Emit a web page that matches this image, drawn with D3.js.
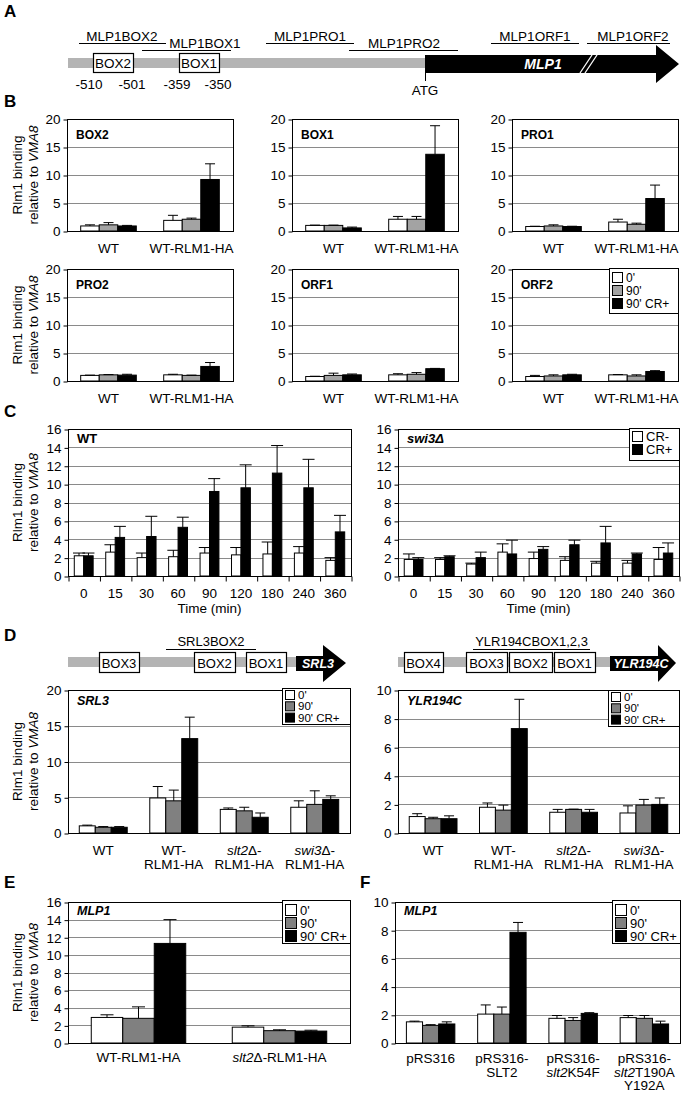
<!DOCTYPE html>
<html>
<head>
<meta charset="utf-8">
<script src="https://cdn.jsdelivr.net/npm/d3@7"></script>
<style>
  body { margin: 0; background: #fff; }
</style>
</head>
<body>
<svg id="fig" width="682" height="1093"></svg>
<script>
const FONT = "'Liberation Sans', Arial, Helvetica, sans-serif";
const FS = 13.5;

// ---------- data ----------
const timeSeries = ["0'", "90'", "90' CR+"];
const crSeries = ["CR-", "CR+"];

// panel B (MLP1 ChIP, two strains x three conditions)
const bStrains = ["WT", "WT-RLM1-HA"];
const box2Mean = [[0.9, 1.1, 0.9], [1.9, 2.1, 9.2]];
const box2Err = [[0.2, 0.4, 0.1], [0.9, 0.2, 2.8]];
const box1Mean = [[1.0, 1.0, 0.55], [2.1, 2.1, 13.7]];
const box1Err = [[0.05, 0.05, 0.15], [0.5, 0.5, 5.1]];
const pro1Mean = [[0.8, 0.9, 0.8], [1.6, 1.2, 5.8]];
const pro1Err = [[0.05, 0.2, 0.05], [0.5, 0.2, 2.4]];
const pro2Mean = [[1.0, 1.1, 1.05], [1.1, 1.0, 2.6]];
const pro2Err = [[0.05, 0.05, 0.15], [0.1, 0.05, 0.7]];
const orf1Mean = [[0.8, 1.0, 1.1], [1.1, 1.2, 2.2]];
const orf1Err = [[0.05, 0.4, 0.15], [0.2, 0.3, 0.05]];
const orf2Mean = [[0.8, 0.9, 1.1], [1.1, 0.9, 1.7]];
const orf2Err = [[0.2, 0.2, 0.1], [0.05, 0.2, 0.15]];

// panel C (time course)
const timePoints = ["0", "15", "30", "60", "90", "120", "180", "240", "360"];
const wtCrMinus = [2.2, 2.6, 2.0, 2.1, 2.5, 2.3, 2.4, 2.5, 1.7];
const wtCrMinusErr = [0.3, 0.8, 0.5, 0.7, 0.6, 0.8, 1.3, 0.7, 0.3];
const wtCrPlus = [2.2, 4.2, 4.3, 5.3, 9.2, 9.6, 11.2, 9.6, 4.8];
const wtCrPlusErr = [0.3, 1.2, 2.2, 1.1, 1.4, 2.5, 3.0, 3.1, 1.8];
const swi3CrMinus = [1.8, 1.8, 1.3, 2.6, 1.9, 1.7, 1.4, 1.4, 1.8];
const swi3CrMinusErr = [0.6, 0.2, 0.1, 0.9, 0.7, 0.4, 0.2, 0.3, 1.3];
const swi3CrPlus = [1.8, 2.1, 2.0, 2.4, 2.9, 3.4, 3.6, 2.4, 2.5];
const swi3CrPlusErr = [0.2, 0.1, 0.6, 1.5, 0.3, 0.5, 1.8, 0.1, 1.1];

// panel D
const dStrains = ["WT", "WT-\nRLM1-HA", "*slt2*Δ-\nRLM1-HA", "*swi3*Δ-\nRLM1-HA"];
const srl3Mean = [[1.0, 0.8, 0.8], [4.9, 4.5, 13.2], [3.3, 3.1, 2.2], [3.6, 4.0, 4.7]];
const srl3Err = [[0.1, 0.1, 0.1], [1.6, 1.5, 3.0], [0.2, 0.5, 0.6], [0.9, 1.9, 0.5]];
const ylrMean = [[1.15, 1.0, 1.0], [1.8, 1.6, 7.3], [1.45, 1.65, 1.45], [1.4, 1.95, 2.0]];
const ylrErr = [[0.2, 0.1, 0.2], [0.3, 0.35, 2.05], [0.2, 0.02, 0.2], [0.5, 0.4, 0.45]];

// panel E
const eStrains = ["WT-RLM1-HA", "*slt2*Δ-RLM1-HA"];
const eMean = [[2.9, 2.8, 11.3], [1.8, 1.4, 1.35]];
const eErr = [[0.3, 1.3, 2.7], [0.15, 0.1, 0.1]];

// panel F
const fPlasmids = ["pRS316", "pRS316-\nSLT2", "pRS316-\n*slt2*K54F", "pRS316-\n*slt2*T190A\nY192A"];
const fMean = [[1.5, 1.25, 1.35], [2.05, 2.05, 7.85], [1.75, 1.6, 2.1], [1.8, 1.75, 1.35]];
const fErr = [[0.05, 0.05, 0.15], [0.65, 0.5, 0.7], [0.2, 0.2, 0.05], [0.15, 0.2, 0.2]];

// schematics
const mlp1Probes = ["MLP1BOX2", "MLP1BOX1", "MLP1PRO1", "MLP1PRO2", "MLP1ORF1", "MLP1ORF2"];
const mlp1Boxes = ["BOX2", "BOX1"];
const mlp1Coords = ["-510", "-501", "-359", "-350"];
const srl3Boxes = ["BOX3", "BOX2", "BOX1"];
const ylrBoxes = ["BOX4", "BOX3", "BOX2", "BOX1"];

// ---------- drawing ----------
const fig = d3.select("#fig").attr("font-family", FONT);

function richText(sel, x, y, label, lineH, size, anchor) {
  label.split("\n").forEach((line, k) => {
    const t = sel.append("text")
      .attr("x", x).attr("y", y + k * lineH)
      .attr("text-anchor", anchor || "middle")
      .attr("font-size", size);
    line.split("*").forEach((seg, m) => {
      if (seg) t.append("tspan").text(seg).attr("font-style", m % 2 ? "italic" : "normal");
    });
  });
}

function legend(o) {
  const g = fig.append("g");
  g.append("rect").attr("x", o.x + 0.5).attr("y", o.y + 0.5).attr("width", o.w).attr("height", o.h)
    .attr("fill", "#fff").attr("stroke", "#000");
  o.items.forEach((name, k) => {
    const yy = o.y + o.pad + k * o.row;
    g.append("rect").attr("x", o.x + 3.5).attr("y", yy + 0.5).attr("width", o.sq).attr("height", o.sq)
      .attr("fill", o.colors[k]).attr("stroke", "#000");
    g.append("text").attr("x", o.x + o.sq + 7).attr("y", yy + o.sq).attr("font-size", o.fs).text(name);
  });
}

function barChart(o) {
  const g = fig.append("g");
  const n = o.labels.length, m = o.means[0].length;
  const x = d3.scaleBand().domain(d3.range(n)).range([o.left, o.right])
    .paddingInner(o.pad).paddingOuter(o.pad / 2);
  const xs = d3.scaleBand().domain(d3.range(m)).range([0, x.bandwidth()]);
  const y = d3.scaleLinear().domain([0, o.ymax]).range([o.bottom, o.top]);
  const tv = d3.range(0, o.ymax + o.step / 2, o.step);

  g.append("g").selectAll("line").data(tv.slice(1, -1)).join("line")
    .attr("x1", o.left).attr("x2", o.right)
    .attr("y1", d => Math.round(y(d)) + 0.5).attr("y2", d => Math.round(y(d)) + 0.5)
    .attr("stroke", "#8a8a8a");

  const ax = g.append("g").attr("transform", `translate(${o.left + 0.5},0.5)`)
    .call(d3.axisLeft(y).tickValues(tv).tickSize(4).tickPadding(3));
  ax.attr("font-family", FONT).attr("font-size", FS);
  ax.select(".domain").remove();

  if (o.xTicks) {
    const xb = d3.scaleLinear().domain([0, n]).range([o.left, o.right]);
    const bx = g.append("g").attr("transform", `translate(0.5,${o.bottom + 0.5})`)
      .call(d3.axisBottom(xb).ticks(n).tickSize(5).tickFormat(""));
    bx.select(".domain").remove();
  }

  const cells = o.means.flatMap((row, i) => row.map((v, j) => ({ i, j, v, e: o.errs[i][j] })));
  const cx = d => x(d.i) + xs(d.j) + xs.bandwidth() / 2;

  g.append("g").selectAll("rect").data(cells).join("rect")
    .attr("x", d => x(d.i) + xs(d.j)).attr("y", d => y(d.v))
    .attr("width", xs.bandwidth()).attr("height", d => y(0) - y(d.v))
    .attr("fill", d => o.colors[d.j]).attr("stroke", "#000").attr("stroke-width", 1);

  const eb = g.append("g").attr("stroke", "#000").attr("stroke-width", 1);
  eb.selectAll("line.v").data(cells).join("line").attr("class", "v")
    .attr("x1", cx).attr("x2", cx).attr("y1", d => y(d.v)).attr("y2", d => y(d.v + d.e));
  eb.selectAll("line.c").data(cells).join("line").attr("class", "c")
    .attr("x1", d => cx(d) - o.cap / 2).attr("x2", d => cx(d) + o.cap / 2)
    .attr("y1", d => y(d.v + d.e)).attr("y2", d => y(d.v + d.e));

  g.append("rect").attr("x", o.left + 0.5).attr("y", o.top + 0.5)
    .attr("width", o.right - o.left).attr("height", o.bottom - o.top)
    .attr("fill", "none").attr("stroke", "#000");

  o.labels.forEach((lab, i) => richText(g, x(i) + x.bandwidth() / 2, o.bottom + o.labelDy, lab, o.lineH || 13.5, FS));

  if (o.title) {
    g.append("text").attr("x", o.left + 9).attr("y", o.top + o.titleDy)
      .attr("font-size", o.titleSize).attr("font-weight", "bold")
      .attr("font-style", o.titleItalic ? "italic" : "normal").text(o.title);
  }
  if (o.ytitle) {
    const yc = (o.top + o.bottom) / 2;
    const t = g.append("g").attr("transform", `translate(0,${yc})`);
    richText(t.append("g").attr("transform", "translate(22,0) rotate(-90)"), 0, 0, "Rlm1 binding", 0, FS);
    richText(t.append("g").attr("transform", "translate(38,0) rotate(-90)"), 0, 0, "relative to *VMA8*", 0, FS);
  }
  if (o.xtitle) {
    g.append("text").attr("x", (o.left + o.right) / 2).attr("y", o.bottom + 37)
      .attr("text-anchor", "middle").attr("font-size", FS).text(o.xtitle);
  }
}

const colB = ["#fff", "#a3a3a3", "#000"];
const colD = ["#fff", "#808080", "#000"];
const colC = ["#fff", "#000"];

// panel letters
[["A", 4, 17], ["B", 4, 107], ["C", 4, 417], ["D", 4, 641], ["E", 4, 888], ["F", 360, 888]]
  .forEach(([t, x, y]) => fig.append("text").attr("x", x).attr("y", y)
    .attr("font-size", 17).attr("font-weight", "bold").text(t));

// ---- panel A schematic ----
(function () {
  const g = fig.append("g");
  g.append("rect").attr("x", 68).attr("y", 58).attr("width", 357).attr("height", 10).attr("fill", "#b4b4b4");
  g.append("path").attr("d", "M425,55 H656 V45 L679,64 L656,83 V73 H425 Z").attr("fill", "#000");
  g.append("line").attr("x1", 580).attr("y1", 73).attr("x2", 592).attr("y2", 55).attr("stroke", "#fff").attr("stroke-width", 1.3);
  g.append("line").attr("x1", 585).attr("y1", 73).attr("x2", 597).attr("y2", 55).attr("stroke", "#fff").attr("stroke-width", 1.3);
  g.append("text").attr("x", 543).attr("y", 69).attr("text-anchor", "middle").attr("fill", "#fff")
    .attr("font-size", 14).attr("font-weight", "bold").attr("font-style", "italic").text("MLP1");
  g.append("line").attr("x1", 425.5).attr("x2", 425.5).attr("y1", 73).attr("y2", 81).attr("stroke", "#000");
  g.append("text").attr("x", 425).attr("y", 95).attr("text-anchor", "middle").attr("font-size", FS).text("ATG");

  const boxX = [93, 179];
  mlp1Boxes.forEach((b, k) => {
    g.append("rect").attr("x", boxX[k] + 0.5).attr("y", 53.5).attr("width", 40).attr("height", 19)
      .attr("fill", "#fff").attr("stroke", "#000").attr("stroke-width", 1.2);
    g.append("text").attr("x", boxX[k] + 20).attr("y", 68).attr("text-anchor", "middle").attr("font-size", FS).text(b);
  });
  const coordX = [89, 132, 177, 218];
  mlp1Coords.forEach((c, k) => g.append("text").attr("x", coordX[k]).attr("y", 89)
    .attr("text-anchor", "middle").attr("font-size", FS).text(c));

  // [line start, line end, row, text centre]
  const spans = [[79, 166, 0, 122], [142, 231, 1, 205], [266, 354, 0, 310], [349, 458, 1, 404],
                 [491, 579, 0, 535], [587, 670, 0, 633]];
  mlp1Probes.forEach((p, k) => {
    const [x1, x2, r, tx] = spans[k];
    const ly = r ? 50.5 : 43.5;
    g.append("line").attr("x1", x1).attr("x2", x2).attr("y1", ly).attr("y2", ly).attr("stroke", "#000");
    g.append("text").attr("x", tx).attr("y", ly - 3).attr("text-anchor", "middle")
      .attr("font-size", FS).text(p);
  });
})();

// ---- panel B ----
const bPanels = [
  ["BOX2", box2Mean, box2Err], ["BOX1", box1Mean, box1Err], ["PRO1", pro1Mean, pro1Err],
  ["PRO2", pro2Mean, pro2Err], ["ORF1", orf1Mean, orf1Err], ["ORF2", orf2Mean, orf2Err]
];
const bLeft = [67, 292, 512];
bPanels.forEach(([name, mean, err], k) => {
  const col = k % 3, row = Math.floor(k / 3);
  const bottom = row ? 381 : 231;
  barChart({
    left: bLeft[col], right: bLeft[col] + 166, top: bottom - 112, bottom,
    ymax: 20, step: 5, means: mean, errs: err, labels: bStrains, colors: colB,
    pad: 0.33, cap: 10, labelDy: 22, title: name, titleSize: 12, titleDy: 20, ytitle: col === 0
  });
});
legend({ x: 609, y: 268, w: 69, h: 45, pad: 4, row: 13, sq: 10, fs: 12, items: timeSeries, colors: colB });

// ---- panel C ----
barChart({
  left: 68, right: 351, top: 429, bottom: 576, ymax: 16, step: 2,
  means: d3.zip(wtCrMinus, wtCrPlus), errs: d3.zip(wtCrMinusErr, wtCrPlusErr),
  labels: timePoints, colors: colC, pad: 0.4, cap: 12, labelDy: 22, xTicks: true,
  title: "WT", titleSize: 13, titleDy: 14, ytitle: true, xtitle: "Time (min)"
});
barChart({
  left: 398, right: 679, top: 429, bottom: 576, ymax: 16, step: 2,
  means: d3.zip(swi3CrMinus, swi3CrPlus), errs: d3.zip(swi3CrMinusErr, swi3CrPlusErr),
  labels: timePoints, colors: colC, pad: 0.4, cap: 12, labelDy: 22, xTicks: true,
  title: "swi3Δ", titleItalic: true, titleSize: 13, titleDy: 14, xtitle: "Time (min)"
});
legend({ x: 629, y: 428, w: 50, h: 32, pad: 3, row: 13, sq: 10, fs: 13, items: crSeries, colors: colC });

// ---- panel D schematics ----
function geneMap(o) {
  const g = fig.append("g");
  g.append("rect").attr("x", o.x0).attr("y", 657).attr("width", o.ax - o.x0).attr("height", 10).attr("fill", "#b4b4b4");
  g.append("path").attr("d", `M${o.ax},656 H${o.hx} V645 L${o.tip},663 L${o.hx},682 V671 H${o.ax} Z`).attr("fill", "#000");
  g.append("text").attr("x", o.gx).attr("y", 668).attr("text-anchor", "middle").attr("fill", "#fff")
    .attr("font-size", 12.5).attr("font-weight", "bold").attr("font-style", "italic").text(o.gene);
  o.boxes.forEach((b, k) => {
    const [x1, x2] = o.boxX[k];
    g.append("rect").attr("x", x1 + 0.5).attr("y", 652.5).attr("width", x2 - x1).attr("height", 20)
      .attr("fill", "#fff").attr("stroke", "#000").attr("stroke-width", 1.2);
    g.append("text").attr("x", (x1 + x2) / 2).attr("y", 668).attr("text-anchor", "middle").attr("font-size", 13).text(b);
  });
  g.append("line").attr("x1", o.probe[0]).attr("x2", o.probe[1]).attr("y1", 649.5).attr("y2", 649.5).attr("stroke", "#000");
  g.append("text").attr("x", (o.probe[0] + o.probe[1]) / 2).attr("y", 646).attr("text-anchor", "middle")
    .attr("font-size", 13).text(o.probeName);
}
geneMap({ x0: 68, ax: 296, hx: 323, tip: 346, gx: 318, gene: "SRL3", boxes: srl3Boxes,
  boxX: [[99, 139], [194, 235], [246, 286]], probe: [166, 256], probeName: "SRL3BOX2" });
geneMap({ x0: 398, ax: 610, hx: 658, tip: 676, gx: 641, gene: "YLR194C", boxes: ylrBoxes,
  boxX: [[404, 443], [466, 507], [509, 552], [554, 595]], probe: [473, 590], probeName: "YLR194CBOX1,2,3" });

// ---- panel D charts ----
barChart({
  left: 68, right: 350, top: 690, bottom: 833, ymax: 20, step: 5,
  means: srl3Mean, errs: srl3Err, labels: dStrains, colors: colD, pad: 0.32, cap: 10,
  labelDy: 22, lineH: 13.5, title: "SRL3", titleItalic: true, titleSize: 12.5, titleDy: 15, ytitle: true
});
legend({ x: 282, y: 688, w: 68, h: 36, pad: 2, row: 11.3, sq: 9, fs: 11.5, items: timeSeries, colors: colD });
barChart({
  left: 398, right: 679, top: 690, bottom: 833, ymax: 10, step: 2,
  means: ylrMean, errs: ylrErr, labels: dStrains, colors: colD, pad: 0.32, cap: 10,
  labelDy: 22, lineH: 13.5, title: "YLR194C", titleItalic: true, titleSize: 12.5, titleDy: 15
});
legend({ x: 608, y: 690, w: 71, h: 36, pad: 2, row: 11.3, sq: 9, fs: 11.5, items: timeSeries, colors: colD });

// ---- panel E ----
barChart({
  left: 68, right: 350, top: 902, bottom: 1043, ymax: 16, step: 2,
  means: eMean, errs: eErr, labels: eStrains, colors: colD, pad: 0.33, cap: 13,
  labelDy: 19, title: "MLP1", titleItalic: true, titleSize: 12.5, titleDy: 13, ytitle: true
});
legend({ x: 282, y: 900, w: 68, h: 43, pad: 4, row: 13, sq: 11, fs: 13, items: timeSeries, colors: colD });

// ---- panel F ----
barChart({
  left: 395, right: 680, top: 902, bottom: 1043, ymax: 10, step: 2,
  means: fMean, errs: fErr, labels: fPlasmids, colors: colD, pad: 0.32, cap: 10,
  labelDy: 20, lineH: 13.5, title: "MLP1", titleItalic: true, titleSize: 12.5, titleDy: 13
});
legend({ x: 612, y: 900, w: 68, h: 43, pad: 4, row: 13, sq: 11, fs: 13, items: timeSeries, colors: colD });
</script>
</body>
</html>
